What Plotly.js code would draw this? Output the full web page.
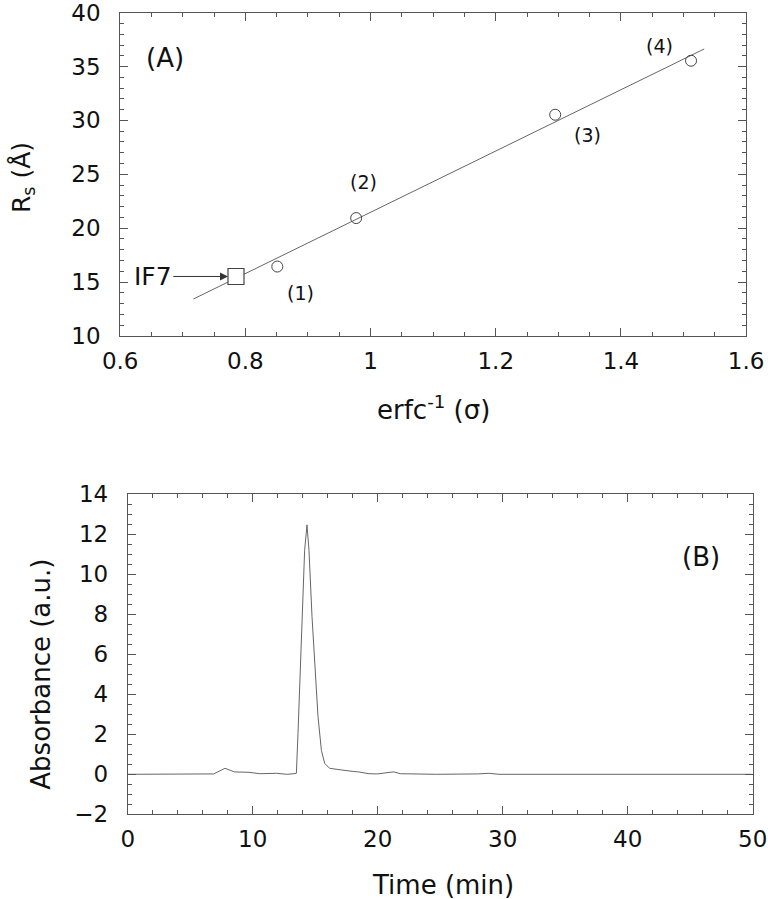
<!DOCTYPE html>
<html>
<head>
<meta charset="utf-8">
<script src="https://cdn.plot.ly/plotly-3.0.1.min.js"></script>
<style>html,body{margin:0;padding:0;background:#fff;}#chart{width:768px;height:899px;}</style>
</head>
<body>
<div id="chart"></div>
<script>
// Panel A: hydrodynamic radius vs erfc^-1(sigma)
const standardsX = [0.851, 0.977, 1.295, 1.512];
const standardsY = [16.44, 20.94, 30.53, 35.54];
const standardLabels = ["(1)", "(2)", "(3)", "(4)"];
const labelX = [0.888, 0.989, 1.347, 1.462];
const labelY = [14.03, 24.25, 28.67, 36.87];
const if7X = [0.785];
const if7Y = [15.52];
const fitX = [0.717, 1.533];
const fitY = [13.43, 36.63];

// Panel B: chromatogram
const timeMin = [0, 2, 4, 6, 6.86, 7.3, 7.77, 8.2, 8.54, 9.7, 10.56, 11.9, 12.75, 13.3, 13.49, 13.62, 13.89, 14.15, 14.34, 14.5, 14.74, 14.95, 15.22, 15.49, 15.75, 16.15, 16.6, 17.3, 17.95, 18.46, 19.3, 19.97, 20.98, 21.3, 21.8, 22.66, 24.7, 28.0, 28.9, 29.7, 35, 40, 45, 50];
const absorbance = [0, 0, 0, 0, 0.02, 0.15, 0.30, 0.2, 0.12, 0.10, 0.03, 0.05, 0.0, 0.03, 0.05, 2.05, 7.05, 11.2, 12.47, 11.2, 7.9, 5.4, 2.9, 1.2, 0.55, 0.3, 0.25, 0.2, 0.15, 0.12, 0.03, 0.02, 0.1, 0.12, 0.03, 0.02, 0, 0.02, 0.05, 0, 0, 0, 0, 0];

const ink = '#444444';
const txt = '#111111';
const fontFam = 'DejaVu Sans, sans-serif';
const tickFont = {family: fontFam, size: 23, color: txt};
const titleFont = {family: fontFam, size: 26, color: txt};

const traces = [
  {x: fitX, y: fitY, mode: 'lines', line: {color: '#666', width: 1}, xaxis: 'x', yaxis: 'y', hoverinfo: 'skip'},
  {x: standardsX, y: standardsY, mode: 'markers', marker: {symbol: 'circle-open', size: 11, color: ink, line: {width: 1, color: ink}}, xaxis: 'x', yaxis: 'y'},
  {x: if7X, y: if7Y, mode: 'markers', marker: {symbol: 'square', size: 16, color: '#fff', line: {width: 1.2, color: ink}}, xaxis: 'x', yaxis: 'y'},
  {x: timeMin, y: absorbance, mode: 'lines', line: {color: '#666', width: 1}, xaxis: 'x2', yaxis: 'y2'}
];

const axisCommon = {
  showline: true, linecolor: '#555', linewidth: 1, mirror: 'allticks',
  ticks: 'inside', ticklen: 8, tickcolor: '#555', tickwidth: 1,
  showgrid: false, zeroline: false, ticklabeloverflow: 'allow',
  tickfont: tickFont
};

const annotations = standardLabels.map((t, i) => ({
  x: labelX[i], y: labelY[i], xref: 'x', yref: 'y', text: t, showarrow: false,
  font: {family: fontFam, size: 19, color: txt}
}));
annotations.push({x: 0.672, y: 35.8, xref: 'x', yref: 'y', text: '(A)', showarrow: false, font: {family: fontFam, size: 26, color: txt}});
annotations.push({x: 45.9, y: 10.88, xref: 'x2', yref: 'y2', text: '(B)', showarrow: false, font: {family: fontFam, size: 26, color: txt}});
annotations.push({x: if7X[0], y: if7Y[0], xref: 'x', yref: 'y', ax: 0.652, ay: if7Y[0], axref: 'x', ayref: 'y',
  text: 'IF7', showarrow: true, arrowhead: 2, arrowsize: 1.6, arrowwidth: 1, arrowcolor: '#333', standoff: 8,
  font: {family: fontFam, size: 25, color: txt}});
// axis titles placed as paper annotations
annotations.push({x: 0.030, y: 0.802, xref: 'paper', yref: 'paper', xanchor: 'center', yanchor: 'middle',
  text: 'R<sub>s</sub> (Å)', textangle: -90, showarrow: false, font: {family: fontFam, size: 25, color: txt}});
annotations.push({x: 0.5645, y: 0.546, xref: 'paper', yref: 'paper', xanchor: 'center', yanchor: 'middle',
  text: 'erfc<sup>-1</sup> (σ)', showarrow: false, font: titleFont});
annotations.push({x: 0.053, y: 0.2503, xref: 'paper', yref: 'paper', xanchor: 'center', yanchor: 'middle',
  text: 'Absorbance (a.u.)', textangle: -90, showarrow: false, font: titleFont});
annotations.push({x: 0.5765, y: 0.0156, xref: 'paper', yref: 'paper', xanchor: 'center', yanchor: 'middle',
  text: 'Time (min)', showarrow: false, font: titleFont});

const layout = {
  width: 768, height: 899,
  margin: {l: 0, r: 0, t: 0, b: 0},
  paper_bgcolor: '#fff', plot_bgcolor: '#fff',
  showlegend: false,
  xaxis: Object.assign({}, axisCommon, {
    domain: [0.1565, 0.9715], anchor: 'y', range: [0.6, 1.6], dtick: 0.2, tick0: 0.6,
    minor: {ticks: 'inside', dtick: 0.05, ticklen: 4, tickcolor: '#555'},
    ticklabelstandoff: 4
  }),
  yaxis: Object.assign({}, axisCommon, {
    domain: [0.6263, 0.9859], anchor: 'x', range: [10, 40], dtick: 5,
    minor: {ticks: 'inside', dtick: 1, ticklen: 4, tickcolor: '#555'},
    ticklabelstandoff: 14
  }),
  xaxis2: Object.assign({}, axisCommon, {
    domain: [0.1664, 0.9800], anchor: 'y2', range: [0, 50], dtick: 10,
    minor: {ticks: 'inside', dtick: 2, ticklen: 4, tickcolor: '#555'},
    ticklabelstandoff: 4
  }),
  yaxis2: Object.assign({}, axisCommon, {
    domain: [0.0942, 0.4502], anchor: 'x2', range: [-2, 14], dtick: 2,
    minor: {ticks: 'inside', dtick: 0.5, ticklen: 4, tickcolor: '#555'},
    ticklabelstandoff: 14
  }),
  annotations: annotations
};

Plotly.newPlot('chart', traces, layout, {displayModeBar: false, staticPlot: true});
</script>
</body>
</html>
